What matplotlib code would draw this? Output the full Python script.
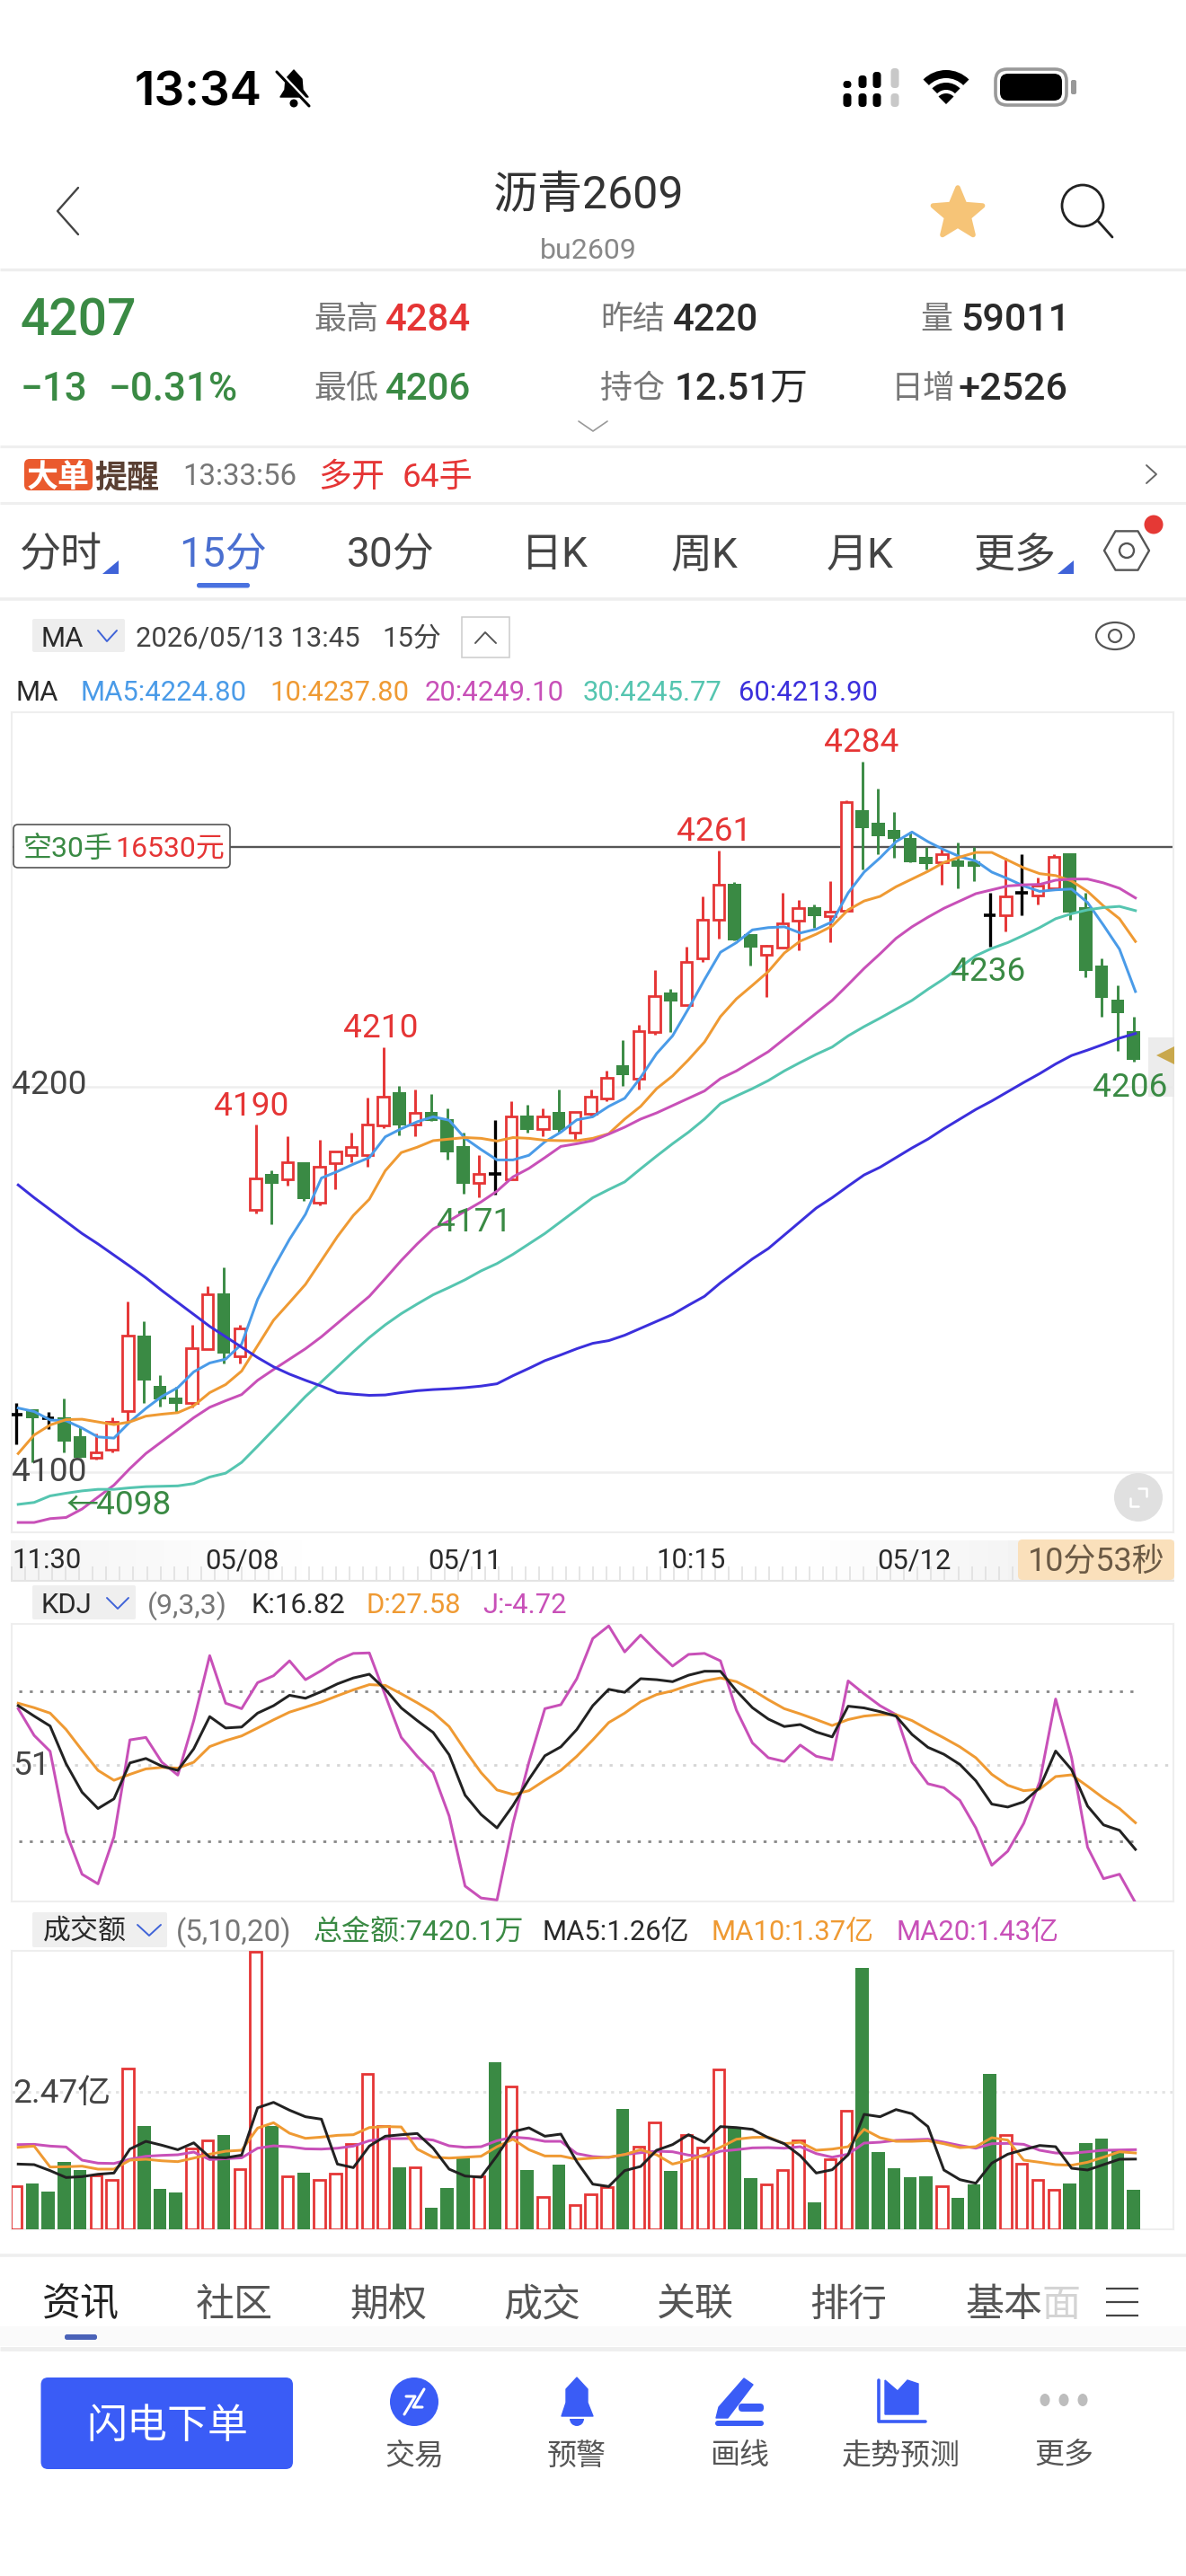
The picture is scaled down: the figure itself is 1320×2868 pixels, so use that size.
import numpy as np
import matplotlib
matplotlib.use('Agg')
import matplotlib.pyplot as plt
from matplotlib.patches import FancyBboxPatch, Rectangle, Circle, Polygon, Wedge, Ellipse

plt.rcParams['font.family'] = ['Roboto', 'Noto Sans CJK SC', 'DejaVu Sans']
plt.rcParams['axes.unicode_minus'] = False

# ---------- data ----------
opens = [4115,4116.3,4114,4114.2,4109.4,4103.9,4105.9,4116,4135.4,4122.4,4119.4,4118.1,4132.1,4146.5,4130.1,4168.1,4177.5,4176.1,4180.6,4169.9,4180.2,4182.3,4182.3,4190,4198.6,4190.3,4193.5,4191.7,4184.6,4175.2,4177.4,4176.1,4192.5,4189.2,4193.6,4188.2,4193.1,4197.1,4205.6,4202.2,4214.2,4224.6,4221.4,4233.3,4243.4,4252.7,4239.6,4234.3,4236.2,4243.3,4246.6,4244.4,4245.8,4271.8,4268.7,4266.7,4264.7,4259.7,4258.3,4258.9,4258.7,4244.5,4244.7,4250.5,4249.7,4251.6,4260.8,4246.6,4231.6,4222.6,4214.6]
closes = [4115,4114,4114,4108,4103.9,4105.1,4113.2,4135.4,4123.9,4118.9,4117.9,4132.3,4146.3,4130.9,4137.4,4176.4,4175,4180.4,4171,4179.4,4183.3,4184.4,4190.4,4197.5,4190,4193.3,4191.3,4183.1,4175,4177.4,4177.4,4192.3,4189,4192.3,4189,4193.5,4197.5,4202.5,4203.1,4214.6,4223.6,4222.2,4232.5,4243.5,4252.5,4238.1,4236.2,4236.6,4242.5,4246.5,4244.3,4245.5,4273.9,4267.2,4265.2,4264.4,4258.3,4257.9,4260.5,4257.2,4257.3,4244.5,4249.5,4250.5,4252.2,4259.7,4245.4,4230.1,4223.1,4219.2,4207.1]
highs = [4118.1,4116.3,4115.8,4119.1,4112,4110,4114.2,4144.3,4139.2,4125.3,4122.1,4138.3,4148.3,4153.2,4138.3,4190.3,4178.4,4187.3,4180.6,4186.3,4183.3,4188.3,4197.3,4210.4,4200.2,4199.4,4198.3,4194.4,4188.3,4182.3,4191.4,4196.3,4195.4,4194.4,4199.4,4193.5,4199.3,4204.3,4212.3,4216.2,4230.4,4225.4,4236.4,4249.5,4261.4,4253.3,4239.6,4237,4250.4,4248.5,4247.3,4253.5,4274.4,4284.5,4277.4,4271.4,4266.2,4262.4,4262.4,4263.4,4262.4,4250.4,4259.5,4260.4,4254.4,4260.4,4260.8,4250.4,4233.3,4226.4,4218.3]
lows = [4107.2,4102.6,4111.3,4105.3,4103.9,4103.3,4105.3,4112.7,4118.1,4117.2,4115.4,4116.9,4132.1,4128.2,4128.2,4167.3,4164.3,4174.4,4170.4,4169.2,4173.4,4180.4,4179.4,4189.3,4187.5,4187.3,4191.3,4181.3,4172.4,4171.3,4172.1,4176.1,4188.3,4187.3,4188.3,4186.4,4192.2,4196.4,4200.4,4199.3,4213.6,4214.4,4221.4,4232.5,4238.5,4238.1,4231.5,4223.5,4236.2,4235.4,4241.4,4237.5,4245.8,4256.5,4260.5,4259.5,4258.3,4256.6,4252.5,4251.5,4253.5,4236.5,4240.5,4244.5,4247.5,4251.6,4243.5,4228.5,4218.3,4209.4,4206.5]

ma5 = [4116.7,4115.8,4113.6,4113.4,4111.5,4109.2,4108.9,4113.1,4116.6,4119.7,4122,4126.1,4128.4,4129.4,4133.3,4144.9,4153.1,4160.5,4167,4176.4,4178.1,4180,4181.7,4187.1,4189.2,4191,4192.3,4191.4,4186.7,4183.8,4181.1,4181.1,4182.3,4185.8,4188.3,4191.5,4192.3,4195,4197.1,4202.5,4208.7,4213.3,4220.4,4227.9,4235,4237.5,4240.8,4241.4,4241.6,4240,4241,4242.9,4250.4,4255.8,4259.5,4263.7,4266.2,4263.7,4261.6,4259.8,4258.7,4255.8,4254.1,4252.2,4250.8,4251.2,4251.4,4247.9,4242,4235.8,4224.8]
ma10 = [4104.9,4109.7,4112.3,4113.7,4113.8,4113.1,4112.4,4113.1,4114.6,4115.1,4115.5,4117.3,4120.7,4122.8,4126.3,4132.9,4139.5,4144.1,4148.8,4155,4161.2,4166.7,4170.9,4178.3,4183,4184.4,4186.1,4186.5,4186.9,4186.7,4186,4186.9,4186.7,4186.2,4186.1,4186.1,4186.7,4187.9,4191.7,4195,4199.6,4202.9,4207.1,4211.7,4218.3,4222.9,4226.4,4230,4234.8,4237.9,4239.7,4241.8,4246,4248.3,4249.5,4252,4254,4256,4258.3,4259.7,4260.9,4260.9,4258.9,4256.9,4255.4,4254.9,4253.5,4250.8,4247,4243.7,4237.8]
ma20 = [4087,4087,4088,4088.3,4090.5,4093.6,4096.7,4101,4104.9,4108,4111.1,4114.2,4116.9,4118.6,4120.2,4123.9,4126.7,4129.4,4132.1,4135.2,4138.7,4142.2,4145.7,4150.3,4155,4159.3,4163.2,4165.3,4167.8,4170.2,4173,4176.7,4178.9,4181.7,4184.6,4185.3,4186.1,4187.8,4189.6,4191.7,4193.3,4195.2,4197.1,4199,4202.2,4204.2,4206.7,4209.2,4212.5,4215.8,4219.2,4222.5,4226.6,4230.8,4234.6,4238.6,4241.6,4244.1,4246.4,4248.3,4250.2,4251.2,4252.2,4252.5,4252.6,4253.7,4254,4254,4253,4251.6,4249.1]
ma30 = [4091.7,4092.2,4093.9,4094.6,4095.2,4095.6,4095.6,4096,4096.3,4096.4,4096.5,4097.1,4098.8,4099.8,4102.6,4106.8,4111.1,4115.4,4119.7,4123.5,4127.4,4131.3,4135,4138.3,4141.2,4143.7,4146.1,4148,4150,4152.3,4154.2,4156.6,4159.3,4162,4165.1,4168.2,4171.3,4173.4,4175.4,4178.8,4182.1,4185.3,4188.3,4191.7,4195.7,4197.7,4199.6,4201.7,4204.2,4206.4,4208.5,4210.4,4213.3,4215.7,4217.9,4220.2,4222.5,4225.4,4228.1,4231.1,4234.1,4236,4237.5,4239.4,4241.4,4243.7,4245,4246,4246.6,4246.9,4245.8]
ma60 = [4174.6,4171.3,4168.2,4165.1,4162,4159.3,4156.4,4153.5,4150.5,4147.2,4144.1,4141,4137.9,4135.2,4132.5,4129.8,4127.4,4125.5,4123.9,4122.4,4120.7,4120.3,4120,4120.1,4120.7,4121.2,4121.5,4121.7,4122,4122.4,4123,4125.1,4127,4129,4130.5,4132.1,4133.5,4134.2,4135.6,4137.4,4139.2,4141,4143.4,4145.7,4149.2,4152.3,4155.4,4158.1,4161.6,4165.1,4168.6,4171.3,4174.3,4177.2,4179.2,4181.7,4184.2,4186.5,4189.2,4191.7,4194.2,4196.4,4198.8,4201.2,4203.5,4206,4208.2,4209.6,4211.1,4212.7,4213.9]

kdj_k = [74.8,70.6,66.6,51.4,39.9,33.3,37.2,51.7,53.5,50.4,48.7,57.4,70.4,65.8,66.2,71.8,74.8,79,77.8,80.5,83.6,86,87.5,81.4,73.9,68.8,64,55,38.7,30.9,25.5,34.5,45.1,54.6,58.2,65.2,74.8,81.4,80.2,85.7,85.3,84.5,87.1,88.7,88.7,80.8,74,69.4,66.4,67.2,64.2,62.2,74.6,73.9,72.4,70.6,63.2,58,55.2,51.1,44.5,35.1,33.9,36,41.7,56.5,49,34.3,26.7,24.5,16.82]
kdj_d = [75.8,74,71.8,65.2,56.8,48.7,44.7,47.1,49.3,49.9,49.6,52,58.3,60.7,62.6,65.8,69.1,72.2,74.2,76.3,78.8,81.2,83.3,83,79.6,76,72.1,66.4,56.8,47.8,40.8,39,40.5,44.7,48.7,54.4,61,68,71.8,76.4,79.3,80.8,83,84.8,86,84.5,81.2,77.2,73.6,71.5,69.2,66.8,69.2,70.6,71.2,71.2,68.8,65.2,61.8,58.2,53.8,47.1,42.7,40.5,41.1,46.2,46.9,42.3,37.5,33.3,27.58]
kdj_j = [73.6,62.8,56.4,23.7,6.8,2.9,21.9,61,62,52,46.8,68.8,95,75.8,73.6,84.1,86.9,92.9,85.3,89,93.2,95.9,96.1,79,62,54.4,47.8,30.3,2,-2.8,-3.6,27.3,52,73.6,75.2,85.7,101.9,107,96.5,103.3,96.8,90.8,95.5,95.9,92.9,73,59.8,53.8,52.3,58.9,54.4,53,84.8,79.6,74.8,71.2,52,43.3,41.7,36.6,25.5,10.4,16.1,27.3,44.1,77.5,53.8,17.7,5,6.8,-4.72]

volume = [0.771,0.82,0.674,1.214,1.068,0.971,0.879,2.896,1.861,0.717,0.658,1.456,1.602,1.688,1.079,4.989,1.861,0.944,1.014,0.89,0.998,1.526,2.794,1.861,1.106,1.117,0.378,0.739,1.294,0.955,3.01,2.562,1.068,0.577,1.16,0.431,0.631,0.755,2.157,1.483,1.915,1.041,1.699,1.467,2.875,1.834,0.917,0.798,1.063,1.591,0.485,1.257,2.13,4.709,1.392,1.095,0.928,0.944,0.771,0.556,0.809,2.789,1.699,1.176,0.89,0.712,0.825,1.548,1.634,1.402,0.701]
vol_dir = "RGGGGRRRGGGRRGRRGRGRRRRRGRGGGRGRGRGRRRGRRGRRRGGRRRGRRGGGGGRGGGRRRRGGGGG"
vol_ma5 = [1.17,1.16,1.052,0.928,0.944,0.987,1.009,1.44,1.58,1.51,1.429,1.553,1.294,1.283,1.332,2.184,2.282,2.141,2.023,1.979,1.17,1.106,1.494,1.672,1.699,1.721,1.456,1.079,0.955,0.933,1.321,1.753,1.823,1.672,1.71,1.214,0.809,0.766,1.052,1.127,1.419,1.521,1.699,1.564,1.845,1.828,1.796,1.645,1.537,1.321,1.009,1.068,1.338,2.066,2.023,2.152,2.077,1.845,1.063,0.89,0.825,1.187,1.348,1.429,1.505,1.483,1.095,1.063,1.16,1.257,1.26]
vol_ma10 = [1.472,1.494,1.117,1.122,1.133,1.079,1.079,1.241,1.257,1.229,1.214,1.278,1.348,1.402,1.419,1.818,1.915,1.726,1.634,1.656,1.688,1.699,1.828,1.845,1.839,1.44,1.294,1.278,1.294,1.311,1.483,1.618,1.429,1.316,1.316,1.257,1.278,1.294,1.343,1.429,1.338,1.17,1.241,1.338,1.472,1.618,1.65,1.656,1.537,1.564,1.419,1.44,1.483,1.796,1.645,1.58,1.58,1.591,1.537,1.467,1.483,1.645,1.602,1.241,1.203,1.16,1.149,1.203,1.294,1.392,1.37]
vol_ma20 = [1.521,1.526,1.494,1.478,1.241,1.187,1.181,1.257,1.311,1.327,1.338,1.386,1.251,1.267,1.283,1.456,1.499,1.483,1.445,1.44,1.456,1.494,1.591,1.629,1.629,1.634,1.602,1.499,1.472,1.483,1.591,1.656,1.634,1.58,1.58,1.359,1.305,1.289,1.343,1.375,1.402,1.392,1.332,1.305,1.402,1.429,1.462,1.467,1.456,1.483,1.359,1.294,1.348,1.548,1.564,1.597,1.607,1.618,1.564,1.505,1.456,1.537,1.543,1.526,1.419,1.37,1.365,1.392,1.419,1.424,1.43]

date_labels = ["11:30", "05/08", "05/11", "10:15", "05/12"]
position_price = 4262.4

# ---------- style ----------
RED, GREEN = '#e53535', '#3a8a44'
C5, C10, C20, C30, C60 = '#4a9be8', '#ef9a33', '#c850b8', '#55c5b0', '#3b2fdc'
DARK, GRAY, LGRAY = '#2a2a2a', '#777777', '#eeeeee'
BLUE = '#3a5cf6'
MA_LW = 2.15
W, H = 1320, 2868
fig = plt.figure(figsize=(W/100, H/100), dpi=100, facecolor='white')

def axes_px(x0, y0, x1, y1):
    return fig.add_axes([x0/W, 1-y1/H, (x1-x0)/W, (y1-y0)/H])

def style(ax):
    ax.set_xticks([]); ax.set_yticks([])
    ax.patch.set_alpha(0)
    for s in ax.spines.values():
        s.set_color('#eeeeee'); s.set_linewidth(1.5)

n = len(opens)
idx = np.arange(n)
lx = idx + 0.12
XL = (-0.31, 72.5)
LEFT, RIGHT = 12.6, 1306

# ---------- price panel ----------
ax = axes_px(LEFT, 792.5, RIGHT, 1706)
style(ax)
ax.set_xlim(*XL); ax.set_ylim(4084.45, 4297.4)
ax.axhline(4200, color=LGRAY, lw=1.8, zorder=1)
ax.axhline(4100, color=LGRAY, lw=1.8, zorder=1)
ax.axhline(position_price, color='#555555', lw=1.7, zorder=2)
o, c, h, l = map(np.array, (opens, closes, highs, lows))
up, dn, flat = c > o, c < o, c == o
ax.vlines(idx[up], l[up], h[up], color=RED, lw=2.1, zorder=3)
ax.vlines(idx[dn], l[dn], h[dn], color=GREEN, lw=2.1, zorder=3)
ax.vlines(idx[flat], l[flat], h[flat], color='black', lw=2.4, zorder=3)
ax.bar(idx[up], (c-o)[up], bottom=o[up], width=0.7, facecolor='white', edgecolor=RED, lw=2.0, zorder=4)
ax.bar(idx[dn], (o-c)[dn], bottom=c[dn], width=0.82, facecolor=GREEN, edgecolor='none', zorder=4)
ax.hlines(c[flat], idx[flat]-0.38, idx[flat]+0.38, color='black', lw=2.6, zorder=4)
for m, col in zip((ma5, ma10, ma20, ma30, ma60), (C5, C10, C20, C30, C60)):
    ax.plot(lx, m, color=col, lw=MA_LW, zorder=5, solid_joinstyle='round')

# ---------- KDJ ----------
ax2 = axes_px(LEFT, 1808, RIGHT, 2117)
style(ax2)
ax2.set_xlim(*XL); ax2.set_ylim(-4.2, 107.8)
ax2.hlines([80.6, 20.1], 0.15, 70.1, color='#888888', lw=2, linestyles=(0, (1.2, 3)), zorder=1)
ax2.axhline(51, color='#d5d5d5', lw=2, linestyle=(0, (1.2, 3)), zorder=1)
ax2.plot(lx, kdj_j, color=C20, lw=MA_LW, zorder=3)
ax2.plot(lx, kdj_d, color=C10, lw=MA_LW, zorder=4)
ax2.plot(lx, kdj_k, color='#222222', lw=MA_LW, zorder=5)

# ---------- amount ----------
ax3 = axes_px(LEFT, 2171.7, RIGHT, 2481.7)
style(ax3)
ax3.set_xlim(*XL); ax3.set_ylim(0, 5.016)
ax3.axhline(2.47, color='#e2e2e2', lw=2, linestyle=(0, (1.2, 2)), zorder=1)
v = np.array(volume); d = np.array(list(vol_dir))
ax3.bar(idx[d == 'R'], v[d == 'R'], width=0.7, facecolor='white', edgecolor=RED, lw=2.0, zorder=3)
ax3.bar(idx[d == 'G'], v[d == 'G'], width=0.82, facecolor=GREEN, edgecolor='none', zorder=3)
ax3.plot(lx, vol_ma20, color=C20, lw=MA_LW, zorder=5)
ax3.plot(lx, vol_ma10, color=C10, lw=MA_LW, zorder=6)
ax3.plot(lx, vol_ma5, color='#222222', lw=MA_LW, zorder=7)

# ---------- UI overlay in pixel coordinates ----------
ui = fig.add_axes([0, 0, 1, 1], zorder=10)
ui.set_xlim(0, W); ui.set_ylim(H, 0); ui.axis('off'); ui.patch.set_alpha(0)

def T(x, y, s, px, color=DARK, ha='left', weight='normal', **kw):
    return ui.text(x, y, s, fontsize=px*0.72, color=color, ha=ha, va='center_baseline', fontweight=weight, **kw)

def hline(y, color='#efefef', lw=2.2, x0=0, x1=W):
    ui.plot([x0, x1], [y, y], color=color, lw=lw, solid_capstyle='butt')

def poly(pts, color='#666666', lw=1.6):
    a = np.array(pts)
    ui.plot(a[:, 0], a[:, 1], color=color, lw=lw, solid_capstyle='round', solid_joinstyle='round')

def rbox(x0, y0, x1, y1, r, fc, ec='none', lw=0, z=1):
    ui.add_patch(FancyBboxPatch((x0+r, y0+r), x1-x0-2*r, y1-y0-2*r, boxstyle=f'round,pad={r},rounding_size={r}', fc=fc, ec=ec, lw=lw, zorder=z))

# status bar
T(150, 99, '13:34', 53, '#000000', weight='semibold', family=['Inter', 'DejaVu Sans'])
ui.add_patch(Polygon([(312, 108), (317, 100), (318, 88), (327, 78), (336, 88), (337, 100), (343, 108)], fc='black', ec='black', lw=1, joinstyle='round'))
ui.add_patch(Circle((327, 115), 4.5, fc='black'))
poly([(310, 80), (346, 118)], 'white', 3.5)
poly([(308, 80), (344, 118)], 'black', 2.2)
for xx, top, col in [(943, 90, 'black'), (960, 84, 'black'), (976, 80, 'black'), (996, 76, '#c8c8c8')]:
    rbox(xx-4.5, top, xx+4.5, 98, 4, col)
    rbox(xx-4.5, 104, xx+4.5, 119, 4, col)
for r, w_ in [(36, 9), (22, 8)]:
    ui.add_patch(Wedge((1053, 114), r, 225, 315, width=w_, fc='black'))
ui.add_patch(Wedge((1053, 116), 12, 225, 315, fc='black'))
rbox(1108, 77, 1187, 117, 13, 'white', '#999999', 2.6)
rbox(1113, 82, 1182, 112, 9, 'black')
rbox(1192, 89, 1198, 105, 2, '#999999')

# nav
poly([(87, 209), (64, 235), (87, 261)], '#444444', 1.7)
T(655, 213, '沥青2609', 50, '#333333', ha='center')
T(655, 277, 'bu2609', 32, '#888888', ha='center')
ang = np.deg2rad(np.arange(0, 360, 36) + 90)
rad = np.array([29, 13] * 5)
ui.add_patch(Polygon(np.c_[1066 + rad*np.cos(ang), 238 - rad*np.sin(ang)], fc='#f6c477', ec='#f6c477', lw=4, joinstyle='round'))
ui.add_patch(Ellipse((1205, 229), 46, 46, fc='none', ec='#222222', lw=2))
poly([(1222, 246), (1238, 264)], '#222222', 2)
hline(300, '#eeeeee', 2.4)

# quote block
T(23, 352, '4207', 57, GREEN, weight='medium')
T(23, 429, '−13', 44, GREEN, weight='medium')
T(121, 429, '−0.31%', 44, GREEN, weight='medium')
T(349, 352, '最高', 36, GRAY); T(429, 352, '4284', 42, RED, weight='medium')
T(349, 429, '最低', 36, GRAY); T(429, 429, '4206', 42, GREEN, weight='medium')
T(668, 352, '昨结', 36, GRAY); T(749, 352, '4220', 42, DARK, weight='medium')
T(668, 429, '持仓', 36, GRAY); T(751, 429, '12.51万', 42, DARK, weight='medium')
T(1024, 352, '量', 36, GRAY); T(1069, 352, '59011', 43, DARK, weight='medium')
T(992, 429, '日增', 36, GRAY); T(1067, 429, '+2526', 43, DARK, weight='medium')
poly([(644, 469), (660, 480), (676, 469)], '#999999', 1.2)
hline(496.5)

# alert row
rbox(27, 511, 103, 546, 6, '#ea5a2e')
T(65, 529, '大单', 35, 'white', ha='center', weight='bold', style='italic')
T(105, 529, '提醒', 36, '#5a4033', weight='bold', style='italic')
T(203, 528, '13:33:56', 33, GRAY)
T(354, 528, '多开', 37, RED)
T(448, 528, '64手', 37, RED)
poly([(1276, 518), (1287, 528), (1276, 538)], '#666666', 1.4)
hline(560)

# timeframe tabs
T(22, 614, '分时', 46, '#444444')
T(248, 614, '15分', 46, '#4a6fd0', ha='center')
T(435, 614, '30分', 46, '#444444', ha='center')
T(617, 614, '日K', 46, '#444444', ha='center')
T(784, 614, '周K', 46, '#444444', ha='center')
T(957, 614, '月K', 46, '#444444', ha='center')
T(1130, 614, '更多', 46, '#444444', ha='center')
for x0 in (114, 1177):
    ui.add_patch(Polygon([(x0, 639), (x0+18, 639), (x0+18, 624)], fc='#3f63d8', ec='none'))
a6 = np.deg2rad(np.arange(0, 360, 60))
ui.add_patch(Polygon(np.c_[1254 + 25*np.cos(a6), 613 + 25*np.sin(a6)], fc='none', ec='#555555', lw=1.7, joinstyle='round'))
ui.add_patch(Circle((1254, 613), 8, fc='none', ec='#555555', lw=1.7))
ui.add_patch(Circle((1284, 584), 10.5, fc='#e53935', ec='none'))
rbox(219, 649, 278, 654.5, 2.5, '#4a72e0')
hline(667, '#eeeeee', 2.6)

# chart toolbar
rbox(36, 689, 139, 726, 2, '#eeeeee')
T(45, 708, 'MA', 31, DARK)
poly([(109, 702), (119, 714), (130, 702)], '#3f63d8', 1.4)
T(151, 708, '2026/05/13 13:45', 31, '#444444')
T(425, 708, '15分', 31, '#444444')
ui.add_patch(Rectangle((514, 687), 53, 45, fc='white', ec='#cccccc', lw=1.1))
poly([(529, 716), (540, 704), (552, 716)], '#555555', 1.4)
ui.add_patch(Ellipse((1241, 708), 42, 30, fc='none', ec='#555555', lw=1.6))
ui.add_patch(Circle((1241, 708), 7, fc='none', ec='#555555', lw=1.6))
T(17, 768, 'MA', 31, DARK)
for xx, s, col in [(90, 'MA5:4224.80', C5), (300, '10:4237.80', C10), (473, '20:4249.10', C20), (649, '30:4245.77', C30), (822, '60:4213.90', C60)]:
    T(xx, 768, s, 31, col)

# price panel annotations
T(13, 1204, '4200', 37, '#444444')
T(13, 1635, '4100', 37, '#444444')
for xx, yy, s, col in [(280, 1228, '4190', RED), (424, 1141, '4210', RED), (795, 922, '4261', RED), (959, 823, '4284', RED),
                       (528, 1357, '4171', GREEN), (1100, 1078, '4236', GREEN), (1258, 1207, '4206', GREEN)]:
    T(xx, yy, s, 37, col, ha='center')
T(74, 1672, '←', 36, GREEN)
T(107, 1672, '4098', 37, GREEN)
rbox(15, 918, 256, 966, 5, 'white', '#555555', 1.2)
T(26, 942, '空30手', 32, GREEN)
T(128, 942, '16530元', 32, RED)
ui.add_patch(Rectangle((1278, 1155), 29, 66, fc='#e8e8e8', ec='none', zorder=0.5, alpha=.8))
ui.add_patch(Polygon([(1287, 1175), (1307, 1165), (1307, 1185)], fc='#c9a84c', ec='none', zorder=0.6))
ui.add_patch(Circle((1267, 1667), 27, fc='#e0e0e0', ec='none'))
poly([(1258, 1668), (1258, 1677), (1267, 1677)], 'white', 1.8)
poly([(1267, 1657), (1276, 1657), (1276, 1666)], 'white', 1.8)

# date strip
grad = np.interp(np.arange(W), [12, 366, 880, 1133, 1307], [0.955, 1, 1, 0.955, 0.955])
ui.imshow(np.tile(grad, (2, 1)), extent=(0, W, 1761, 1715), cmap='gray', vmin=0, vmax=1, aspect='auto', zorder=0)
ui.add_patch(Rectangle((0, 1715), 12, 47, fc='white', ec='none', zorder=0.1))
ui.add_patch(Rectangle((1307, 1715), 13, 47, fc='white', ec='none', zorder=0.1))
ui.set_xlim(0, W); ui.set_ylim(H, 0)
ui.vlines(np.arange(13, 1307, 15.05), 1744, 1760, color='#dedede', lw=1.1, zorder=0.5)
hline(1760, '#e4e4e4', 1.5, 12, 1307)
for xx, s, ha_ in zip((13, 269, 518, 769, 1017), date_labels, ('left', 'center', 'center', 'center', 'center')):
    T(xx, 1735, s, 31, DARK, ha=ha_)
rbox(1133, 1714, 1307, 1759, 5, '#fae0bb')
T(1220, 1735, '10分53秒', 36, '#6b5a45', ha='center')

# KDJ header
rbox(36, 1765, 151, 1803, 2, '#efefef')
T(46, 1784, 'KDJ', 31, DARK)
poly([(119, 1779), (131, 1791), (143, 1779)], '#3f63d8', 1.4)
T(164, 1784, '(9,3,3)', 32, GRAY)
T(279, 1784, 'K:16.82', 31, DARK)
T(407, 1784, 'D:27.58', 31, C10)
T(537, 1784, 'J:-4.72', 31, C20)
T(14, 1962, '51', 37, '#444444')

# amount header
rbox(36, 2129, 186, 2168, 2, '#efefef')
T(48, 2148, '成交额', 31, DARK)
poly([(153, 2143), (166, 2155), (179, 2143)], '#3f63d8', 1.4)
T(196, 2148, '(5,10,20)', 33, GRAY)
T(349, 2148, '总金额:7420.1万', 32, GREEN)
T(604, 2148, 'MA5:1.26亿', 31, DARK)
T(792, 2148, 'MA10:1.37亿', 31, C10)
T(998, 2148, 'MA20:1.43亿', 31, C20)
T(14, 2327, '2.47亿', 37, '#444444')

# bottom tabs
hline(2511, '#eeeeee', 2.6)
T(90, 2563, '资讯', 43, '#222222', ha='center', weight='medium')
for xx, s in [(261, '社区'), (432, '期权'), (603, '成交'), (774, '关联'), (944, '排行')]:
    T(xx, 2563, s, 43, '#555555', ha='center')
T(1074, 2563, '基本', 43, '#555555')
T(1160, 2563, '面', 43, '#d4d4d4')
for yy in (2548, 2563, 2578):
    hline(yy, '#444444', 1.6, 1231, 1267)
rbox(72, 2599, 108, 2605, 2.5, '#4a62b8')
ui.add_patch(Rectangle((0, 2590), W, 22, fc='#fafafa', ec='none', zorder=0.2))
hline(2615, '#eeeeee', 3.5)

# bottom actions
rbox(45.5, 2647, 326, 2749, 8, BLUE)
T(186, 2698, '闪电下单', 45, 'white', ha='center')
ui.add_patch(Circle((461, 2674), 27, fc=BLUE, ec='none'))
poly([(452, 2668), (462, 2668), (450, 2688)], 'white', 2.2)
poly([(472, 2660), (460, 2680), (470, 2680)], 'white', 2.2)
ui.add_patch(Polygon([(625, 2690), (630, 2675), (630, 2660), (642, 2647), (654, 2660), (654, 2675), (660, 2690)], fc=BLUE, ec=BLUE, lw=1, joinstyle='round'))
ui.add_patch(Wedge((642, 2693), 8, 0, 180, fc=BLUE))
ui.add_patch(Polygon([(797, 2692), (800, 2680), (828, 2648), (838, 2655), (810, 2692)], fc=BLUE, ec=BLUE, joinstyle='round'))
rbox(822, 2676, 850, 2685, 4, BLUE)
rbox(796, 2695, 850, 2701, 3, BLUE)
ui.add_patch(Polygon([(985, 2650), (999, 2662), (1010, 2650), (1022, 2654), (1022, 2688), (985, 2688)], fc=BLUE, ec=BLUE))
poly([(978, 2650), (978, 2696), (1030, 2696)], BLUE, 2.6)
for xx in (1163, 1184, 1205):
    ui.add_patch(Ellipse((xx, 2672), 11, 14, fc='#bdbdbd', ec='none'))
for xx, s in [(461, '交易'), (642, '预警'), (823, '画线'), (1003, '走势预测'), (1184, '更多')]:
    T(xx, 2731, s, 33, '#555555', ha='center')

fig.savefig('out.png', dpi=100, facecolor='white')
